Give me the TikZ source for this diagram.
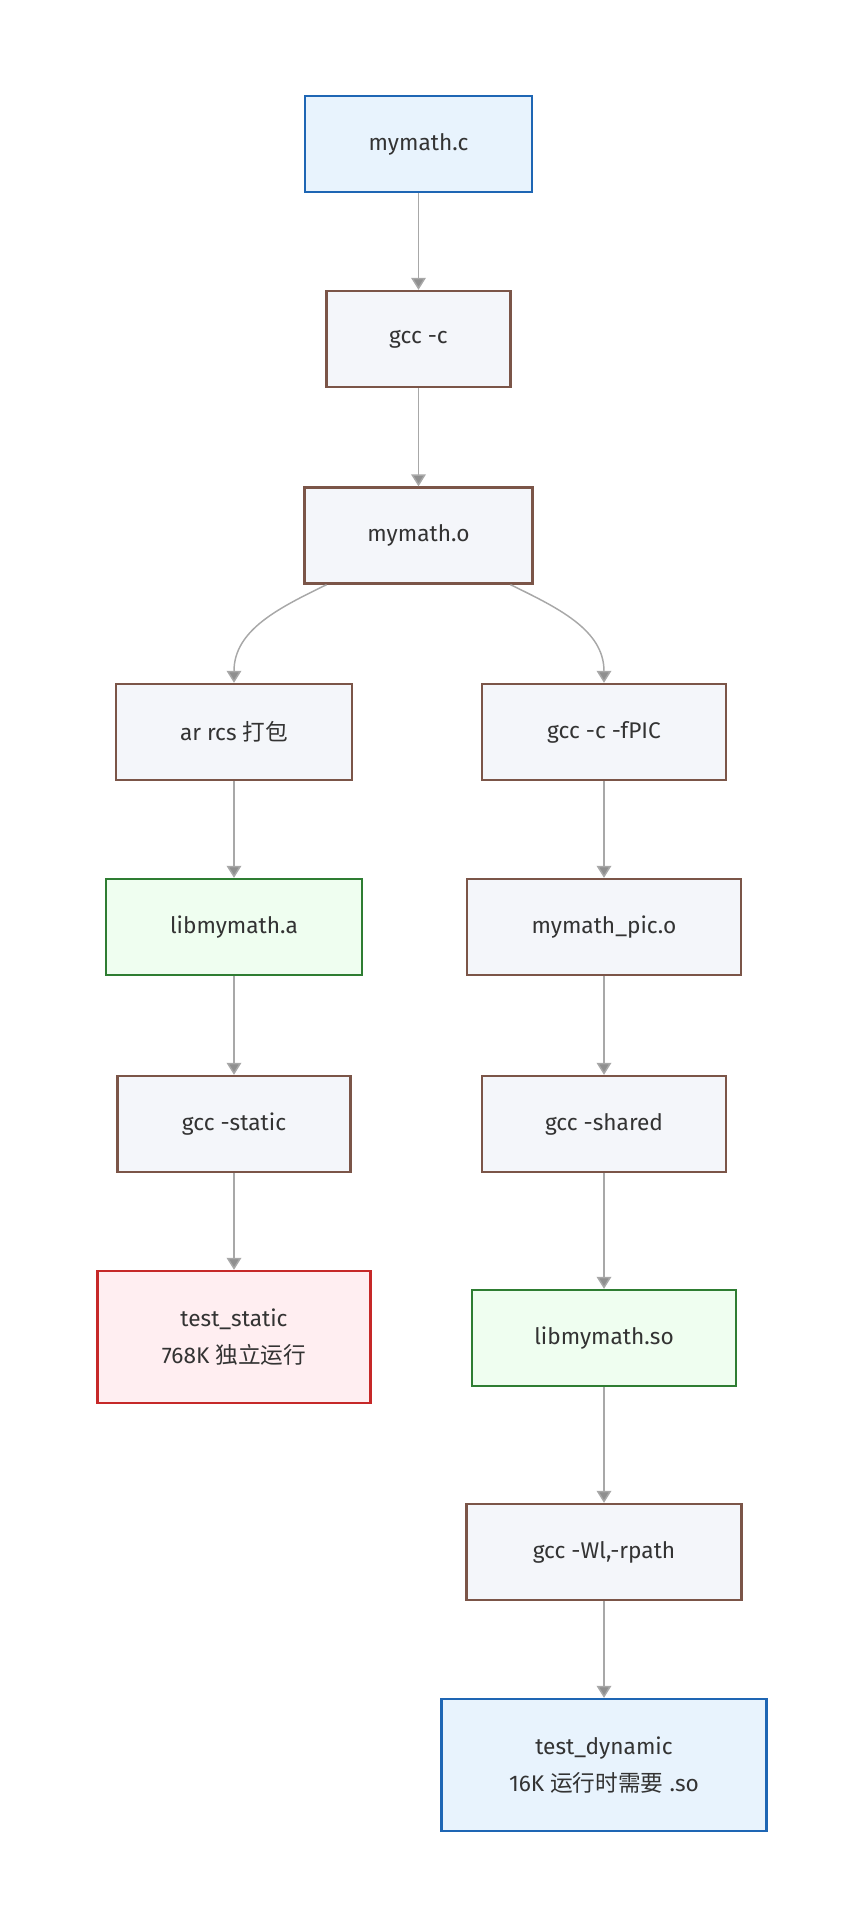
\documentclass[tikz,border=0pt]{standalone}
\usepackage{fontspec}
\usetikzlibrary{arrows.meta}
\setmainfont{Fira Sans}
\newfontfamily\cjk{Noto Sans CJK SC}
\newcommand\zh[1]{{\cjk #1}}
\definecolor{BlueLine}{HTML}{1E66B4}
\definecolor{BlueFill}{HTML}{E8F3FD}
\definecolor{BrownLine}{HTML}{7B5548}
\definecolor{BrownFill}{HTML}{F4F6FA}
\definecolor{GreenLine}{HTML}{2E7D32}
\definecolor{GreenFill}{HTML}{EFFEF0}
\definecolor{RedLine}{HTML}{C62828}
\definecolor{RedFill}{HTML}{FFEEF1}
\definecolor{EdgeGray}{HTML}{A8A8A8}
\definecolor{TextGray}{HTML}{333333}

\begin{document}
\begin{tikzpicture}[
  x=0.75pt,
  y=-0.75pt,
  box/.style={draw, line width=1.8pt, minimum height=72pt,
    inner sep=0pt, align=center, font=\fontsize{17}{28}\selectfont,
    text=TextGray},
  source/.style={box, draw=BlueLine, fill=BlueFill},
  stage/.style={box, draw=BrownLine, fill=BrownFill},
  lib/.style={box, draw=GreenLine, fill=GreenFill},
  exe/.style={box, draw=RedLine, fill=RedFill},
  flow/.style={draw=EdgeGray, line width=1.1pt,
    -{Triangle[width=11pt,length=9pt,fill=EdgeGray!85!black]}}
  ]
\useasboundingbox (0,0) rectangle (862,1928);
% main stem
\node[source, minimum width=170pt] (mymathC) at (418.5,144) {mymath.c};
\node[stage, minimum width=138pt] (gccC) at (418.5,339) {gcc -c};
\node[stage, minimum width=171pt] (mymathO) at (418.5,535.5) {mymath.o};
% static branch
\node[stage, minimum width=177pt] (arRcs) at (234,732) {ar rcs \zh{打包}};
\node[lib, minimum width=192pt] (libA) at (234,927) {libmymath.a};
\node[stage, minimum width=175pt] (gccStatic) at (234,1124) {gcc -static};
\node[exe, minimum width=205pt, minimum height=99pt] (testStatic)
  at (234,1337) {test\_static\\768K \zh{独立运行}};
% shared branch
\node[stage, minimum width=183pt] (gccFpic) at (604,732) {gcc -c -fPIC};
\node[stage, minimum width=205.5pt] (picO) at (604,927) {mymath\_pic.o};
\node[stage, minimum width=183pt] (gccShared) at (604,1124) {gcc -shared};
\node[lib, minimum width=198pt] (libSo) at (604,1338) {libmymath.so};
\node[stage, minimum width=206pt] (gccRpath) at (604,1552) {gcc -Wl,-rpath};
\node[source, minimum width=244pt, minimum height=99pt] (testDyn)
  at (604,1765) {test\_dynamic\\16K \zh{运行时需要} .so};
\draw[flow] (mymathC) -- (gccC);
\draw[flow] (gccC) -- (mymathO);
\draw[flow] ([xshift=-69pt]mymathO.south) to[out=-154,in=90] (arRcs.north);
\draw[flow] ([xshift=69pt]mymathO.south) to[out=-26,in=90] (gccFpic.north);
\foreach \a/\b in {arRcs/libA, libA/gccStatic, gccStatic/testStatic,
  gccFpic/picO, picO/gccShared, gccShared/libSo, libSo/gccRpath,
  gccRpath/testDyn}
  \draw[flow] (\a) -- (\b);
\end{tikzpicture}
\end{document}
